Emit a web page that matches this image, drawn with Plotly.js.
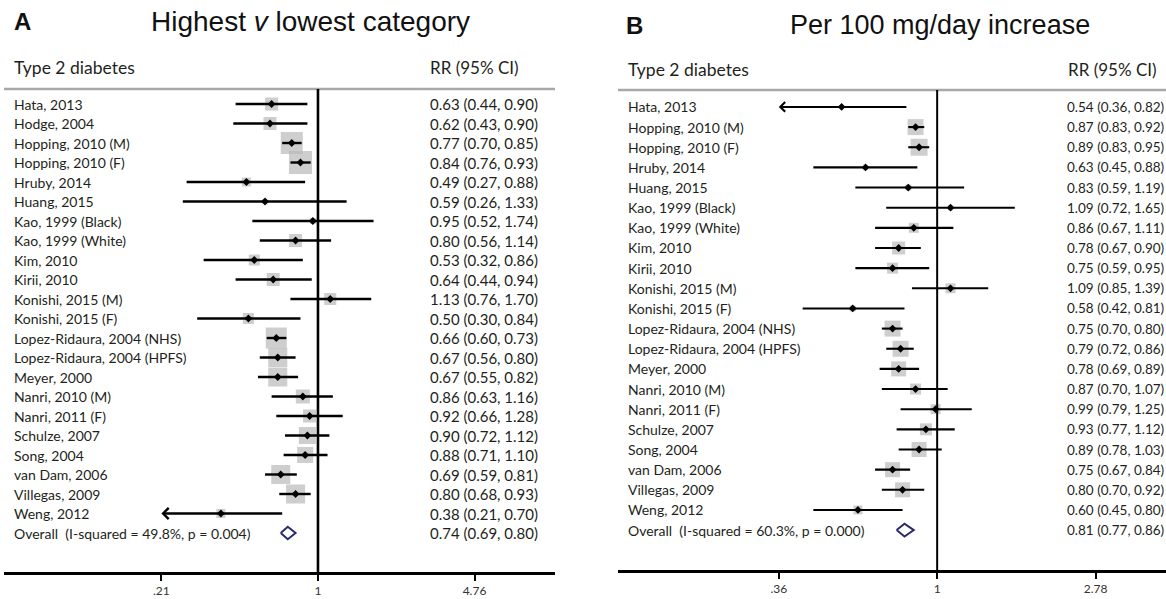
<!DOCTYPE html>
<html>
<head>
<meta charset="utf-8">
<script src="https://cdn.plot.ly/plotly-3.0.1.min.js"></script>
<style>html,body{margin:0;padding:0;background:#fff;}#chart{width:1166px;height:599px;}</style>
</head>
<body>
<div id="chart"></div>
<script>
// ---------- Panel A: Highest v lowest category ----------
const studiesA = ["Hata, 2013","Hodge, 2004","Hopping, 2010 (M)","Hopping, 2010 (F)","Hruby, 2014","Huang, 2015",
  "Kao, 1999 (Black)","Kao, 1999 (White)","Kim, 2010","Kirii, 2010","Konishi, 2015 (M)","Konishi, 2015 (F)",
  "Lopez-Ridaura, 2004 (NHS)","Lopez-Ridaura, 2004 (HPFS)","Meyer, 2000","Nanri, 2010 (M)","Nanri, 2011 (F)",
  "Schulze, 2007","Song, 2004","van Dam, 2006","Villegas, 2009","Weng, 2012"];
const rrA = [0.63,0.62,0.77,0.84,0.49,0.59,0.95,0.80,0.53,0.64,1.13,0.50,0.66,0.67,0.67,0.86,0.92,0.90,0.88,0.69,0.80,0.38];
const loA = [0.44,0.43,0.70,0.76,0.27,0.26,0.52,0.56,0.32,0.44,0.76,0.30,0.60,0.56,0.55,0.63,0.66,0.72,0.71,0.59,0.68,0.21];
const hiA = [0.90,0.90,0.85,0.93,0.88,1.33,1.74,1.14,0.86,0.94,1.70,0.84,0.73,0.80,0.82,1.16,1.28,1.12,1.10,0.81,0.93,0.70];
const weightA = [3.32,3.32,9.50,10.39,1.59,0.49,0.71,3.32,2.38,3.32,2.83,2.38,8.66,7.09,7.09,3.85,3.32,5.67,5.03,7.09,7.09,1.59];
const overallA = {label:"Overall\u00a0\u00a0(I-squared = 49.8%, p = 0.004)", rr:0.74, lo:0.69, hi:0.80};
const ticksA = [0.21, 1, 4.76];
const tickTextA = [".21", "1", "4.76"];

// ---------- Panel B: Per 100 mg/day increase ----------
const studiesB = ["Hata, 2013","Hopping, 2010 (M)","Hopping, 2010 (F)","Hruby, 2014","Huang, 2015",
  "Kao, 1999 (Black)","Kao, 1999 (White)","Kim, 2010","Kirii, 2010","Konishi, 2015 (M)","Konishi, 2015 (F)",
  "Lopez-Ridaura, 2004 (NHS)","Lopez-Ridaura, 2004 (HPFS)","Meyer, 2000","Nanri, 2010 (M)","Nanri, 2011 (F)",
  "Schulze, 2007","Song, 2004","van Dam, 2006","Villegas, 2009","Weng, 2012"];
const rrB = [0.54,0.87,0.89,0.63,0.83,1.09,0.86,0.78,0.75,1.09,0.58,0.75,0.79,0.78,0.87,0.99,0.93,0.89,0.75,0.80,0.60];
const loB = [0.36,0.83,0.83,0.45,0.59,0.72,0.67,0.67,0.59,0.85,0.42,0.70,0.72,0.69,0.70,0.79,0.77,0.78,0.67,0.70,0.45];
const hiB = [0.82,0.92,0.95,0.88,1.19,1.65,1.11,0.90,0.95,1.39,0.81,0.80,0.86,0.89,1.07,1.25,1.12,1.03,0.84,0.92,0.80];
const weightB = [0.53,8.45,9.53,0.82,1.19,0.82,3.30,5.58,3.99,3.30,1.19,8.45,8.45,7.42,3.99,3.30,4.75,7.42,7.42,7.42,2.67];
const overallB = {label:"Overall\u00a0\u00a0(I-squared = 60.3%, p = 0.000)", rr:0.81, lo:0.77, hi:0.86};
const ticksB = [0.36, 1, 2.78];
const tickTextB = [".36", "1", "2.78"];

const W = 1166, H = 599;
const FONT = "Lato, 'Liberation Sans', Arial, sans-serif";
const TFONT = "'Liberation Sans', Arial, sans-serif";
const TXT = "#231f20";

function fmt(v){ return v.toFixed(2); }

const traces = [];
const annotations = [];
const shapes = [];

function panel(cfg){
  const n = cfg.studies.length;
  const rows = cfg.studies.map((_, i) => i);
  const oRow = n;
  // weighted boxes
  traces.push({type:"scatter", mode:"markers", xaxis:cfg.xa, yaxis:cfg.ya, x:cfg.rr, y:rows,
    marker:{symbol:"square", color:"#b9b9b9", size:cfg.weight.map(w => cfg.boxScale*Math.sqrt(w)), line:{width:0}},
    hoverinfo:"skip", showlegend:false});
  // CI lines (arrow where CI runs past the lowest tick)
  const lx = [], ly = [];
  cfg.studies.forEach((_, i) => {
    const arrow = cfg.lo[i] <= cfg.clip;
    lx.push(arrow ? cfg.rr[i] : cfg.lo[i], cfg.hi[i], null);
    ly.push(i, i, null);
    if (arrow) {
      annotations.push({xref:cfg.xa, yref:cfg.ya, axref:cfg.xa, ayref:cfg.ya,
        x:Math.log10(cfg.clip), y:i, ax:Math.log10(cfg.rr[i]), ay:i, text:"", showarrow:true,
        arrowhead:4, arrowsize:0.9, arrowwidth:cfg.lw, arrowcolor:"#000", standoff:0, startstandoff:0});
    }
  });
  traces.push({type:"scatter", mode:"lines", xaxis:cfg.xa, yaxis:cfg.ya, x:lx, y:ly,
    line:{color:"#000", width:cfg.lw}, hoverinfo:"skip", showlegend:false, connectgaps:false});
  // point estimates
  traces.push({type:"scatter", mode:"markers", xaxis:cfg.xa, yaxis:cfg.ya, x:cfg.rr, y:rows,
    marker:{symbol:"diamond", color:"#000", size:6}, hoverinfo:"skip", showlegend:false});
  // overall diamond
  const o = cfg.overall, h = 0.32;
  traces.push({type:"scatter", mode:"lines", xaxis:cfg.xa, yaxis:cfg.ya,
    x:[o.lo, o.rr, o.hi, o.rr, o.lo], y:[oRow, oRow-h, oRow, oRow+h, oRow],
    line:{color:"#2b2a6b", width:2}, hoverinfo:"skip", showlegend:false});
  // row labels and RR text
  const labels = cfg.studies.concat([o.label]);
  const rrText = cfg.studies.map((_, i) => `${fmt(cfg.rr[i])} (${fmt(cfg.lo[i])}, ${fmt(cfg.hi[i])})`)
    .concat([`${fmt(o.rr)} (${fmt(o.lo)}, ${fmt(o.hi)})`]);
  labels.forEach((t, i) => {
    annotations.push({xref:"paper", yref:cfg.ya, x:cfg.labelX/W, y:i, xanchor:"left", yanchor:"middle",
      text:t, showarrow:false, font:{family:FONT, size:14, color:TXT}});
    annotations.push({xref:"paper", yref:cfg.ya, x:cfg.rrX/W, y:i, xanchor:"left", yanchor:"middle",
      text:rrText[i], showarrow:false, font:{family:FONT, size:cfg.rrSize, color:TXT}});
  });
  // headers
  annotations.push({xref:"paper", yref:"paper", x:cfg.labelX/W, y:1-cfg.headY/H, xanchor:"left", yanchor:"middle",
    text:"Type 2 diabetes", showarrow:false, font:{family:FONT, size:17.5, color:TXT}});
  annotations.push({xref:"paper", yref:"paper", x:cfg.rrHeadX/W, y:1-cfg.headY/H, xanchor:"left", yanchor:"middle",
    text:"RR (95% CI)", showarrow:false, font:{family:FONT, size:17, color:TXT}});
  // panel letter + title
  annotations.push({xref:"paper", yref:"paper", x:cfg.letterX/W, y:1-cfg.titleY/H, xanchor:"left", yanchor:"middle",
    text:"<b>"+cfg.letter+"</b>", showarrow:false, font:{family:TFONT, size:24, color:"#111"}});
  annotations.push({xref:"paper", yref:"paper", x:cfg.titleX/W, y:1-cfg.titleY/H, xanchor:"center", yanchor:"middle",
    text:cfg.title, showarrow:false, font:{family:TFONT, size:cfg.titleSize, color:"#111"}});
  // header rule
  shapes.push({type:"line", xref:"paper", yref:"paper", x0:cfg.ruleX0/W, x1:cfg.ruleX1/W,
    y0:1-cfg.ruleY/H, y1:1-cfg.ruleY/H, line:{color:"#a8a8a8", width:2.5}});
  // null line at RR = 1
  shapes.push({type:"line", xref:cfg.xa, yref:cfg.ya+" domain", x0:1, x1:1, y0:0, y1:1,
    line:{color:"#000", width:cfg.vw}});
}

panel({studies:studiesA, rr:rrA, lo:loA, hi:hiA, weight:weightA, overall:overallA, clip:ticksA[0],
  xa:"x", ya:"y", boxScale:7.14, lw:2.4, vw:2.6, labelX:12, rrX:428, rrHeadX:428, rrSize:15, headY:67, titleY:22,
  letter:"A", letterX:12, title:"Highest <i>v</i> lowest category", titleX:310, titleSize:28,
  ruleX0:4, ruleX1:555, ruleY:89});
panel({studies:studiesB, rr:rrB, lo:loB, hi:hiB, weight:weightB, overall:overallB, clip:ticksB[0],
  xa:"x2", ya:"y2", boxScale:5.5, lw:2.1, vw:2.0, labelX:626, rrX:1065, rrHeadX:1066, rrSize:13.5, headY:70, titleY:25,
  letter:"B", letterX:624, title:"Per 100 mg/day increase", titleX:940, titleSize:27,
  ruleX0:618, ruleX1:1166, ruleY:90});

const xCommon = {type:"log", showgrid:false, zeroline:false, showline:true, linecolor:"#000", linewidth:3,
  ticks:"outside", ticklen:6, tickwidth:2, tickcolor:"#000", tickfont:{family:FONT, size:12, color:"#333"},
  fixedrange:true};
const layout = {
  width:W, height:H, margin:{l:0, r:0, t:0, b:0}, paper_bgcolor:"#fff", plot_bgcolor:"#fff",
  showlegend:false,
  xaxis:Object.assign({}, xCommon, {domain:[4/W, 555/W], range:[-1.359, 1.026], anchor:"y",
    tickmode:"array", tickvals:ticksA, ticktext:tickTextA}),
  yaxis:{domain:[1-572/H, 1-89/H], range:[24.0, -0.77], visible:false, anchor:"x"},
  xaxis2:Object.assign({}, xCommon, {domain:[618/W, 1], range:[-0.894, 0.641], anchor:"y2",
    tickmode:"array", tickvals:ticksB, ticktext:tickTextB}),
  yaxis2:{domain:[1-570/H, 1-90/H], range:[22.98, -0.84], visible:false, anchor:"x2"},
  annotations:annotations, shapes:shapes
};
Plotly.newPlot("chart", traces, layout, {staticPlot:true, displayModeBar:false});
</script>
</body>
</html>
